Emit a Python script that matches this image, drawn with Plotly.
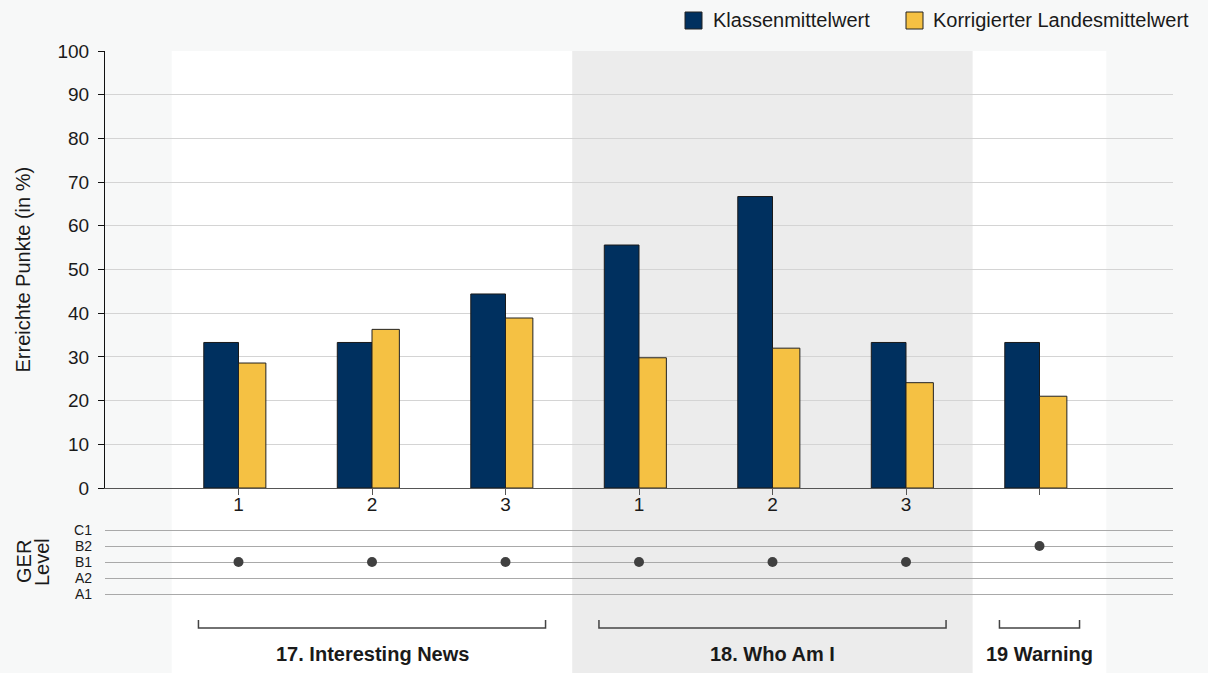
import plotly.graph_objects as go

# ---------------- data ----------------
group_names = ["17. Interesting News", "18. Who Am I", "19 Warning"]
task_labels = ["1", "2", "3", "1", "2", "3", ""]
task_group = [0, 0, 0, 1, 1, 1, 2]
class_mean = [33.3, 33.3, 44.4, 55.6, 66.7, 33.3, 33.3]
national_mean = [28.6, 36.3, 38.9, 29.8, 32.0, 24.1, 21.0]
ger_level = ["B1", "B1", "B1", "B1", "B1", "B1", "B2"]
level_order = ["A1", "A2", "B1", "B2", "C1"]
series_names = ["Klassenmittelwert", "Korrigierter Landesmittelwert"]
y_ticks = list(range(0, 101, 10))

# ---------------- styling ----------------
W, H = 1208, 673
ML, MR, MT, MB = 105, 35, 51, 65
PW, PH = W - ML - MR, H - MT - MB
FONT = "Liberation Sans, Arial, Helvetica, sans-serif"
TXT = "#1a1a1a"
NAVY = "#00305f"
GOLD = "#f5c143"
PAGE = "#f7f8f8"
BAND = ["#ffffff", "#ececec", "#ffffff"]


def px_x(p):
    return (p - ML) / PW


def px_y(p):
    return (H - MB - p) / PH


xpos = list(range(len(task_labels)))

fig = go.Figure()
fig.add_trace(go.Bar(
    x=xpos, y=class_mean, name=series_names[0], width=0.26, offset=-0.26,
    marker=dict(color=NAVY, line=dict(color="#1a1a1a", width=1)),
    xaxis="x", yaxis="y", showlegend=False))
fig.add_trace(go.Bar(
    x=xpos, y=national_mean, name=series_names[1], width=0.205, offset=0,
    marker=dict(color=GOLD, line=dict(color="#222222", width=1)),
    xaxis="x", yaxis="y", showlegend=False))
fig.add_trace(go.Scatter(
    x=xpos, y=ger_level, mode="markers",
    marker=dict(color="#404040", size=10),
    xaxis="x2", yaxis="y2", showlegend=False))

shapes = []
annotations = []

# background bands per group
for g, name in enumerate(group_names):
    idx = [i for i, t in enumerate(task_group) if t == g]
    shapes.append(dict(type="rect", xref="x", yref="paper",
                       x0=min(idx) - 0.5, x1=max(idx) + 0.5,
                       y0=px_y(H), y1=1, fillcolor=BAND[g],
                       line=dict(width=0), layer="below"))
    # bracket
    xa, xb = min(idx) - 0.3, max(idx) + 0.3
    shapes.append(dict(type="path", xref="x", yref="paper",
                       path=f"M {xa},{px_y(620)} L {xa},{px_y(628)} L {xb},{px_y(628)} L {xb},{px_y(620)}",
                       line=dict(color="#444444", width=1.5)))
    annotations.append(dict(x=(min(idx) + max(idx)) / 2, xref="x",
                            y=px_y(654), yref="paper", text=f"<b>{name}</b>",
                            showarrow=False, xanchor="center", yanchor="middle",
                            font=dict(family=FONT, size=20, color=TXT)))

# manual legend
legend_items = [(685, 711, NAVY, series_names[0]), (906, 931, GOLD, series_names[1])]
for sx, tx, col, label in legend_items:
    shapes.append(dict(type="rect", xref="paper", yref="paper",
                       x0=px_x(sx), x1=px_x(sx + 17), y0=px_y(12), y1=px_y(29),
                       fillcolor=col, line=dict(color="#222222", width=1)))
    annotations.append(dict(x=px_x(tx), y=px_y(20.5), xref="paper", yref="paper",
                            text=label, showarrow=False, xanchor="left",
                            yanchor="middle",
                            font=dict(family=FONT, size=20, color=TXT)))

# axis titles
annotations.append(dict(x=px_x(22), y=px_y(269.5), xref="paper", yref="paper",
                        text="Erreichte Punkte (in %)", textangle=-90,
                        showarrow=False, xanchor="center", yanchor="middle",
                        font=dict(family=FONT, size=20, color=TXT)))
annotations.append(dict(x=px_x(24), y=px_y(562), xref="paper", yref="paper",
                        text="GER", textangle=-90,
                        showarrow=False, xanchor="center", yanchor="middle",
                        font=dict(family=FONT, size=20, color=TXT)))
annotations.append(dict(x=px_x(42), y=px_y(562), xref="paper", yref="paper",
                        text="Level", textangle=-90,
                        showarrow=False, xanchor="center", yanchor="middle",
                        font=dict(family=FONT, size=20, color=TXT)))

fig.update_layout(
    width=W, height=H,
    margin=dict(l=ML, r=MR, t=MT, b=MB, pad=0),
    paper_bgcolor=PAGE, plot_bgcolor=PAGE,
    barmode="overlay",
    font=dict(family=FONT, size=19, color=TXT),
    shapes=shapes, annotations=annotations,
    xaxis=dict(range=[-1, 7], tickvals=xpos, ticktext=task_labels,
               showgrid=False, zeroline=False, showline=True,
               linecolor="#555555", linewidth=1, ticks="outside",
               ticklen=6, tickcolor="#555555", anchor="y",
               ticklabelstandoff=-7,
               tickfont=dict(size=19, color=TXT)),
    yaxis=dict(range=[0, 100], tickvals=y_ticks, domain=[px_y(488), 1],
               showgrid=True, gridcolor="#d4d4d4", gridwidth=1,
               zeroline=False, showline=True, linecolor="#111111",
               linewidth=1, ticks="outside", ticklen=6, tickcolor="#111111",
               ticklabelstandoff=5,
               tickfont=dict(size=19, color=TXT), anchor="x"),
    xaxis2=dict(range=[-1, 7], matches="x", anchor="y2", showgrid=False,
                zeroline=False, showline=False, showticklabels=False,
                ticks=""),
    yaxis2=dict(type="category", categoryorder="array",
                categoryarray=level_order, range=[-0.5, 4.5],
                tickmode="array", tickvals=level_order, ticktext=level_order,
                domain=[px_y(602), px_y(522)], anchor="x2",
                showgrid=True, gridcolor="#a9a9a9", gridwidth=1,
                zeroline=False, showline=False, ticks="",
                ticklabelstandoff=12,
                tickfont=dict(size=14, color=TXT)),
)

fig.write_html(
    "out.html",
    config={"displayModeBar": False},
    post_script="document.body.style.margin='0';document.body.style.background='%s';" % PAGE,
)
